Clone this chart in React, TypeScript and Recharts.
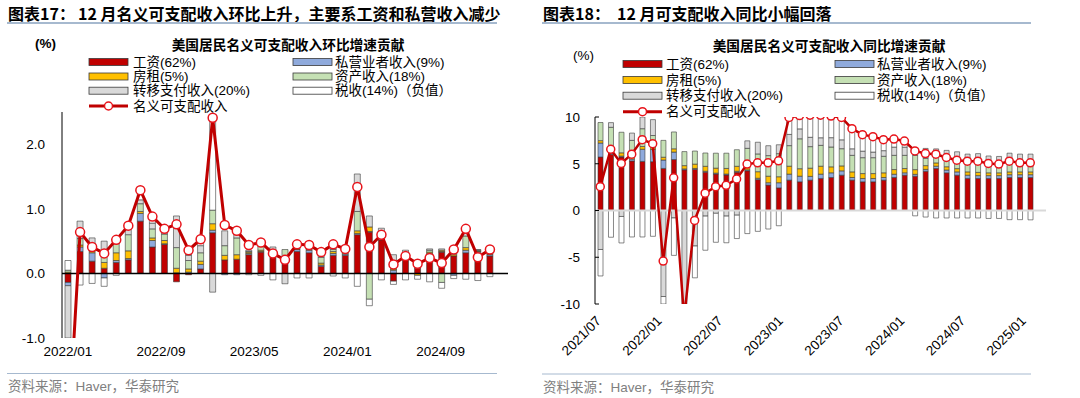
import React from 'react';
import { ComposedChart, Bar, Line, XAxis, YAxis, ReferenceLine } from 'recharts';

const FONT = "'Liberation Sans', Arial, 'Noto Sans CJK SC', sans-serif";
const CJK = "'Noto Sans CJK SC', 'Liberation Sans', sans-serif";

// 环比 (left panel)
const momMonths = [
  '2022/01', '2022/02', '2022/03', '2022/04', '2022/05', '2022/06', '2022/07', '2022/08', '2022/09', '2022/10', '2022/11', '2022/12',
  '2023/01', '2023/02', '2023/03', '2023/04', '2023/05', '2023/06', '2023/07', '2023/08', '2023/09', '2023/10', '2023/11', '2023/12',
  '2024/01', '2024/02', '2024/03', '2024/04', '2024/05', '2024/06', '2024/07', '2024/08', '2024/09', '2024/10', '2024/11', '2024/12',
  '2025/01',
];
const momWages = [-0.14, 0.34, 0.19, 0.08, 0.17, 0.21, 0.81, 0.41, 0.45, -0.13, -0.02, 0.07,
  0.63, 0.21, 0.22, 0.29, 0.33, 0.28, 0.15, 0.34, 0.32, 0.11, 0.28, 0.28,
  0.6, 0.64, 0.52, -0.12, 0.23, 0.08, 0.29, 0.33, 0.27, 0.32, 0.32, 0.27];
const momBiz = [-0.05, 0.07, 0.13, -0.07, 0.03, 0.02, 0.12, 0.1, 0.01, 0.01, 0.02, 0.07,
  0.04, -0.02, -0.02, 0.02, 0.01, 0.04, 0.03, 0.03, 0.04, 0.02, 0.03, 0.02,
  0.02, 0.01, 0.03, 0.05, 0.02, 0.01, 0.02, 0.01, -0.03, 0.04, 0.02, 0.02];
const momRent = [0.02, 0.03, 0.02, 0.09, 0.12, 0.12, 0.03, 0.04, 0.05, 0.07, 0.05, 0.05,
  0.1, 0.07, 0.07, 0.02, 0.02, 0.01, 0.02, 0.01, 0.01, 0.03, 0.03, 0.02,
  0.04, 0.07, 0.02, 0.02, 0.02, -0.03, 0.02, 0.02, 0.02, 0.04, 0.01, 0.01];
const momAsset = [0.03, 0.1, 0.08, 0.15, 0.15, 0.25, 0.12, 0.14, 0.1, 0.32, 0.13, 0.13,
  0.21, 0.15, 0.26, 0.01, 0.07, 0.03, 0.17, 0.01, 0.01, 0.09, 0.03, 0.02,
  0.3, -0.4, 0.05, 0.1, 0.04, 0.02, 0.03, -0.14, 0.02, 0.18, 0.01, 0.01];
const momTransfer = [-2.4, 0.27, 0.13, 0.18, 0.08, 0.14, 0.06, 0.09, 0.07, 0.49, 0.08, 0.11,
  -0.29, 0.23, 0.06, 0.02, 0.02, 0.05, -0.16, 0.01, 0.01, 0.03, 0.03, 0.03,
  0.58, 0.17, 0.08, 0.12, 0.05, 0.04, 0.02, 0.02, 0.02, 0.07, 0.01, 0.01];
const momTax = [0.15, -0.18, -0.155, -0.13, -0.03, 0, 0.15, 0.1, 0.05, 0, 0.08, 0.1,
  1.43, 0, 0, -0.02, -0.03, -0.1, 0, -0.07, -0.07, 0, -0.04, -0.07,
  -0.2, -0.1, -0.1, -0.05, -0.1, -0.06, -0.13, -0.09, -0.05, -0.09, -0.11, -0.05];
const momTotal = [-2.6, 0.64, 0.41, 0.31, 0.52, 0.74, 1.29, 0.88, 0.69, 0.76, 0.36, 0.53,
  2.41, 0.75, 0.66, 0.44, 0.48, 0.31, 0.21, 0.45, 0.44, 0.33, 0.45, 0.38,
  1.34, 0.41, 0.6, 0.14, 0.27, 0.15, 0.24, 0.16, 0.37, 0.69, 0.25, 0.37];

// 同比 (right panel)
const yoyMonths = [
  '2021/07', '2021/08', '2021/09', '2021/10', '2021/11', '2021/12',
  '2022/01', '2022/02', '2022/03', '2022/04', '2022/05', '2022/06', '2022/07', '2022/08', '2022/09', '2022/10', '2022/11', '2022/12',
  '2023/01', '2023/02', '2023/03', '2023/04', '2023/05', '2023/06', '2023/07', '2023/08', '2023/09', '2023/10', '2023/11', '2023/12',
  '2024/01', '2024/02', '2024/03', '2024/04', '2024/05', '2024/06', '2024/07', '2024/08', '2024/09', '2024/10', '2024/11', '2024/12',
  '2025/01',
];
const yoyWages = [5.72, 6.0, 5.72, 5.3, 5.25, 5.22,
  4.5, 5.45, 4.35, 4.4, 4.1, 3.9, 3.8, 4.1, 4.25, 3.3, 2.72, 2.42,
  3.25, 3.07, 3.25, 3.43, 3.53, 3.78, 3.25, 3.07, 3.07, 3.25, 3.53, 3.78,
  3.67, 4.2, 4.49, 4.03, 3.78, 3.43, 3.43, 3.43, 3.43, 3.53, 3.53, 3.53];
const yoyBiz = [1.5, 0.15, 0.1, 0.2, 1.3, 1.3,
  0.9, 0.8, 0.1, 0.1, 0.1, 0.1, 0.1, 0.1, 0.1, 0.15, 0.25, 0.55,
  0.64, 0.6, 0.4, 0.46, 0.5, 0.46, 0.28, 0.35, 0.35, 0.28, 0.35, 0.25,
  0.2, 0.2, 0.25, 0.3, 0.35, 0.35, 0.3, 0.3, 0.3, 0.3, 0.3, 0.3];
const yoyRent = [0.25, 0.1, 0.35, 0.2, 0.3, 0.2,
  0.3, 0.35, 0.35, 0.46, 0.53, 0.53, 0.6, 0.53, 0.53, 0.7, 0.7, 0.64,
  0.85, 0.8, 0.88, 0.85, 0.64, 0.53, 0.6, 0.53, 0.53, 0.5, 0.5, 0.46,
  0.5, 0.4, 0.35, 0.35, 0.35, 0.35, 0.35, 0.3, 0.3, 0.3, 0.3, 0.3];
const yoyAsset = [1.94, 2.65, 2.2, 1.8, 1.9, 1.3,
  1.8, 1.8, 1.5, 1.4, 1.42, 1.6, 1.63, 1.77, 1.77, 1.9, 2.2, 2.47,
  2.2, 3.2, 2.3, 2.23, 2.12, 1.84, 1.77, 1.7, 1.7, 1.77, 1.52, 1.41,
  1.52, 0.78, 0.9, 1.2, 1.2, 1.3, 1.35, 1.2, 1.15, 1.35, 1.3, 1.3];
const yoyTransfer = [-4.17, 0.5, -0.64, 0.78, 1.7, 1.7,
  -9.2, -0.8, -16, -3.8, -0.6, -0.3, -0.6, -0.5, 0.8, 1.25, 1.06, 0.95,
  1.2, 1.06, 1.0, 0.81, 1.0, 0.95, 0.7, 0.7, 0.6, 0.6, 0.88, 0.88,
  0.7, 1.06, 0.6, 0.55, 0.6, 0.6, 0.65, 0.6, 0.6, 0.65, 0.6, 0.6];
const yoyTax = [-2.83, -2.86, -2.83, -2.83, -2.83, -2.76,
  -3.6, -4.0, -1.8, -3.4, -3.65, -3.1, -2.85, -2.5, -2.47, -2.23, -1.98, -1.63,
  1.85, 2.5, 2.5, 2.6, 2.4, 2.3, 2.15, 1.76, 1.65, 1.18, 0.86, 0.65,
  -0.57, -0.7, -0.8, -0.8, -0.8, -0.8, -0.8, -0.85, -0.85, -0.98, -0.98, -1.0];
const yoyTotal = [2.55, 6.55, 5.03, 6.02, 7.58, 7.15,
  -5.41, 3.5, -11.5, -1.06, 1.85, 2.55, 2.69, 3.37, 4.96, 5.1, 5.1, 5.31,
  9.95, 10.15, 10.2, 10.2, 10.1, 9.95, 8.75, 8.11, 7.9, 7.58, 7.64, 7.43,
  6.37, 6.09, 6.02, 5.67, 5.38, 5.28, 5.28, 5.03, 4.96, 5.28, 5.1, 5.1];

const SERIES = [
  { key: 'wages', name: '工资(62%)', fill: '#C00000' },
  { key: 'biz', name: '私营业者收入(9%)', fill: '#8FAADC' },
  { key: 'rent', name: '房租(5%)', fill: '#FFC000' },
  { key: 'asset', name: '资产收入(18%)', fill: '#C5E0B4' },
  { key: 'transfer', name: '转移支付收入(20%)', fill: '#D9D9D9' },
  { key: 'tax', name: '税收(14%)（负值）', fill: '#FFFFFF' },
];
const LINE_NAME = '名义可支配收入';

function build(months: string[], w: number[], b: number[], r: number[], a: number[], t: number[], x: number[], tot: number[]) {
  return months.map((m, i) => {
    if (i >= w.length) return { month: m };
    return { month: m, wages: w[i], biz: b[i], rent: r[i], asset: a[i], transfer: t[i], tax: x[i], total: tot[i] };
  });
}

const momData = build(momMonths, momWages, momBiz, momRent, momAsset, momTransfer, momTax, momTotal);
const yoyData = build(yoyMonths, yoyWages, yoyBiz, yoyRent, yoyAsset, yoyTransfer, yoyTax, yoyTotal);

const RotTick = (props: any) => {
  const { x, y, payload } = props;
  return (
    <text transform={`translate(${x - 5},${y + 3}) rotate(-45)`} textAnchor="end" dy="0.71em"
      fontSize={13.5} fontFamily={FONT} fill="#000">{payload.value}</text>
  );
};

function bars(size: number) {
  return SERIES.map((s) => (
    <Bar key={s.key} xAxisId="main" dataKey={s.key} name={s.name} stackId="s" fill={s.fill}
      stroke="#3a3a3a" strokeWidth={0.6} barSize={size} isAnimationActive={false} />
  ));
}

function Legend({ cols, texts, rows, lineY }: { cols: number[]; texts: number[]; rows: number[]; lineY: number }) {
  return (
    <g fontFamily={FONT} fontSize={13.5} fill="#000">
      {SERIES.map((s, i) => {
        const c = i % 2;
        const r = Math.floor(i / 2);
        return (
          <g key={s.key}>
            <rect x={cols[c]} y={rows[r] - 3.5} width={39} height={7} fill={s.fill} stroke="#3a3a3a" strokeWidth={0.8} />
            <text x={texts[c]} y={rows[r]} dominantBaseline="central">{s.name}</text>
          </g>
        );
      })}
      <line x1={cols[0]} x2={cols[0] + 39} y1={lineY} y2={lineY} stroke="#C00000" strokeWidth={3} />
      <circle cx={cols[0] + 19.5} cy={lineY} r={4} fill="#fff" stroke="#E8141B" strokeWidth={1.5} />
      <text x={texts[0]} y={lineY} dominantBaseline="central">{LINE_NAME}</text>
    </g>
  );
}

export default function App() {
  return (
    <div style={{ position: 'absolute', left: 0, top: 0, width: 1080, height: 398, background: '#fff', overflow: 'hidden' }}>
      <div style={{ position: 'absolute', left: 0, top: 0 }}>
        <ComposedChart width={540} height={398} data={momData} stackOffset="sign"
          margin={{ top: 112, right: 32, bottom: 30, left: 0 }}>
          <XAxis xAxisId="main" dataKey="month" hide />
          <XAxis xAxisId="lbl" dataKey="month" interval={7} axisLine={false} tickLine={false} height={30}
            padding={{ left: 0, right: 15 }} tick={{ fontSize: 13.5, fill: '#000', fontFamily: FONT }} />
          <YAxis width={62} domain={[-1, 2.5]} ticks={[-1, 0, 1, 2]} allowDataOverflow
            tickFormatter={(v: number) => v.toFixed(1)} axisLine={{ stroke: '#000' }} tickLine={false}
            tickMargin={11} tick={{ fontSize: 13.5, fill: '#000', fontFamily: FONT }} />
          {bars(6)}
          <ReferenceLine xAxisId="main" y={0} stroke="#000" strokeWidth={1.5} />
          <Line xAxisId="main" type="linear" dataKey="total" name={LINE_NAME} stroke="#C00000" strokeWidth={3}
            dot={{ r: 4.5, fill: '#fff', stroke: '#E8141B', strokeWidth: 1.5 }} activeDot={false} isAnimationActive={false} />
        </ComposedChart>
      </div>
      <div style={{ position: 'absolute', left: 540, top: 0 }}>
        <ComposedChart width={540} height={398} data={yoyData} stackOffset="sign"
          margin={{ top: 117, right: 34, bottom: 34, left: 0 }}>
          <XAxis xAxisId="main" dataKey="month" hide />
          <XAxis xAxisId="lbl" dataKey="month" interval={5} axisLine={false} tickLine={false} height={60}
            padding={{ left: 0, right: 16 }} tick={<RotTick />} />
          <YAxis width={55} domain={[-10, 10]} ticks={[-10, -5, 0, 5, 10]} allowDataOverflow
            axisLine={{ stroke: '#000' }} tickLine={{ stroke: '#000' }} tickSize={-4} tickMargin={19}
            tick={{ fontSize: 13.5, fill: '#000', fontFamily: FONT }} />
          {bars(5)}
          <ReferenceLine xAxisId="main" y={0} stroke="#D9D9D9" strokeWidth={2} />
          <Line xAxisId="main" type="linear" dataKey="total" name={LINE_NAME} stroke="#C00000" strokeWidth={2.5}
            dot={{ r: 4, fill: '#fff', stroke: '#E8141B', strokeWidth: 1.5 }} activeDot={false} isAnimationActive={false} />
        </ComposedChart>
      </div>
      <svg style={{ position: 'absolute', left: 0, top: 0, pointerEvents: 'none' }} width={1080} height={398}>
        {/* headers */}
        <g fontFamily={CJK} fontWeight="bold" fontSize={16} fill="#000">
          <text x={8} y={13} dominantBaseline="central">图表17：</text>
          <text x={78} y={13} dominantBaseline="central">12 月名义可支配收入环比上升，主要系工资和私营收入减少</text>
          <text x={543} y={13} dominantBaseline="central">图表18：</text>
          <text x={617} y={13} dominantBaseline="central">12 月可支配收入同比小幅回落</text>
        </g>
        <line x1={7} x2={497} y1={23} y2={23} stroke="#A6B9CF" strokeWidth={2} />
        <line x1={542} x2={1031} y1={23} y2={23} stroke="#A6B9CF" strokeWidth={2} />
        {/* chart titles */}
        <g fontFamily={CJK} fontWeight="bold" fontSize={13.7} fill="#000" textAnchor="middle">
          <text x={288} y={44} dominantBaseline="central">美国居民名义可支配收入环比增速贡献</text>
          <text x={829} y={45} dominantBaseline="central">美国居民名义可支配收入同比增速贡献</text>
        </g>
        <text x={35} y={43} dominantBaseline="central" fontFamily={FONT} fontWeight="bold" fontSize={13.5}>(%)</text>
        <text x={573} y={55} dominantBaseline="central" fontFamily={FONT} fontSize={13.5}>(%)</text>
        <Legend cols={[89, 293]} texts={[133, 335]} rows={[62, 76.5, 90.7]} lineY={106} />
        <Legend cols={[623, 835]} texts={[666, 877]} rows={[64, 80, 95.7]} lineY={111.7} />
        {/* footers */}
        <line x1={7} x2={497} y1={373.5} y2={373.5} stroke="#A6B9CF" strokeWidth={1} />
        <line x1={542} x2={1031} y1={374} y2={374} stroke="#A6B9CF" strokeWidth={1} />
        <g fontFamily={FONT} fontSize={13.5} fill="#808080">
          <text x={8} y={386.5} dominantBaseline="central">资料来源：Haver，华泰研究</text>
          <text x={543} y={387} dominantBaseline="central">资料来源：Haver，华泰研究</text>
        </g>
      </svg>
    </div>
  );
}
